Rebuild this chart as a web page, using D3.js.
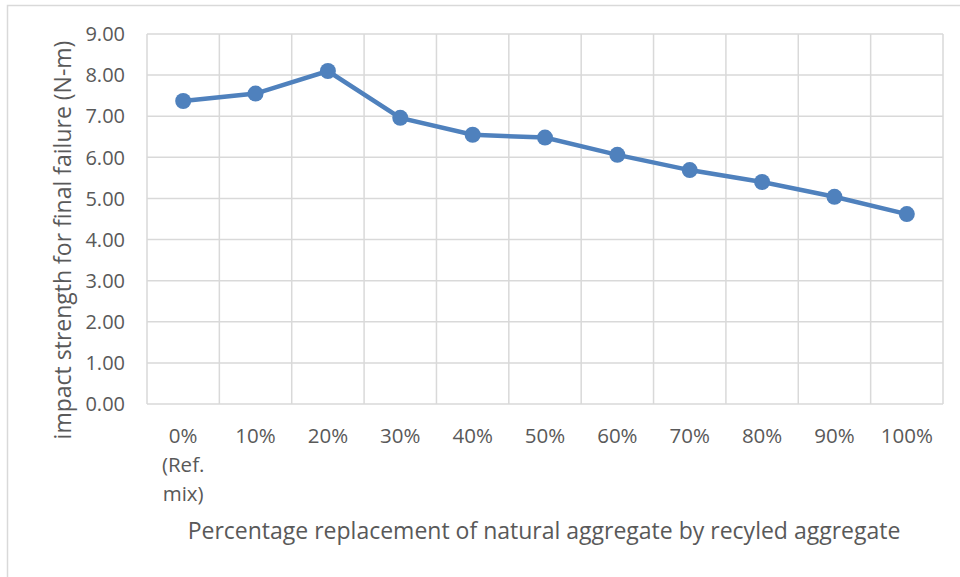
<!DOCTYPE html>
<html>
<head>
<meta charset="utf-8">
<script src="https://cdn.jsdelivr.net/npm/d3@7"></script>
<style>
  body { margin: 0; background: #fff; }
  text { font-family: "Open Sans", sans-serif; fill: #595959; }
</style>
</head>
<body>
<div id="chart"></div>
<script>
// categories and values
const categories = ["0%\n(Ref.\nmix)", "10%", "20%", "30%", "40%", "50%", "60%", "70%", "80%", "90%", "100%"];
const impactValues = [7.37, 7.55, 8.10, 6.96, 6.55, 6.48, 6.06, 5.69, 5.40, 5.04, 4.62];
const yTicks = [0, 1, 2, 3, 4, 5, 6, 7, 8, 9];

const width = 960;
const height = 577;
const margin = { top: 34, right: 17, bottom: 173, left: 147 };

const svg = d3.select("#chart")
    .append("svg")
    .attr("width", width)
    .attr("height", height);

// outer chart border
svg.append("rect")
    .attr("x", 7.5)
    .attr("y", 5.5)
    .attr("width", width)
    .attr("height", height)
    .attr("fill", "none")
    .attr("stroke", "#d9d9d9")
    .attr("stroke-width", 1.5);

const x = d3.scaleBand()
    .domain(d3.range(categories.length))
    .range([margin.left, width - margin.right]);

const y = d3.scaleLinear()
    .domain([0, 9])
    .range([height - margin.bottom, margin.top]);

// horizontal gridlines
svg.append("g")
    .selectAll("line")
    .data(yTicks)
    .enter().append("line")
    .attr("x1", margin.left)
    .attr("x2", width - margin.right)
    .attr("y1", d => y(d))
    .attr("y2", d => y(d))
    .attr("stroke", "#d9d9d9")
    .attr("stroke-width", 1.5);

// vertical gridlines at band edges
const edges = d3.range(categories.length + 1).map(i => margin.left + i * x.step());
svg.append("g")
    .selectAll("line")
    .data(edges)
    .enter().append("line")
    .attr("x1", d => d)
    .attr("x2", d => d)
    .attr("y1", y(0))
    .attr("y2", y(9))
    .attr("stroke", "#d9d9d9")
    .attr("stroke-width", 1.5);

// y tick labels
svg.append("g")
    .selectAll("text")
    .data(yTicks)
    .enter().append("text")
    .attr("x", margin.left - 22)
    .attr("y", d => y(d))
    .attr("dy", "0.36em")
    .attr("text-anchor", "end")
    .style("font-size", "20px")
    .text(d => d.toFixed(2));

// x tick labels (multi-line)
const xLabels = svg.append("g")
    .selectAll("text")
    .data(categories)
    .enter().append("text")
    .attr("x", (d, i) => x(i) + x.bandwidth() / 2)
    .attr("y", 443)
    .attr("text-anchor", "middle")
    .style("font-size", "20.5px");

xLabels.each(function (d) {
    const t = d3.select(this);
    d.split("\n").forEach((line, k) => {
        t.append("tspan")
            .attr("x", t.attr("x"))
            .attr("dy", k === 0 ? 0 : 29)
            .text(line);
    });
});

// axis titles
svg.append("text")
    .attr("x", 544)
    .attr("y", 539)
    .attr("text-anchor", "middle")
    .style("font-size", "23px")
    .text("Percentage replacement of natural aggregate by recyled aggregate");

svg.append("text")
    .attr("transform", "translate(71," + 240 + ") rotate(-90)")
    .attr("text-anchor", "middle")
    .style("font-size", "23px")
    .text("impact strength for final failure (N-m)");

// line and markers
const line = d3.line()
    .x((d, i) => x(i) + x.bandwidth() / 2)
    .y(d => y(d));

svg.append("path")
    .datum(impactValues)
    .attr("d", line)
    .attr("fill", "none")
    .attr("stroke", "#4f81bd")
    .attr("stroke-width", 4.5);

svg.append("g")
    .selectAll("circle")
    .data(impactValues)
    .enter().append("circle")
    .attr("cx", (d, i) => x(i) + x.bandwidth() / 2)
    .attr("cy", d => y(d))
    .attr("r", 8)
    .attr("fill", "#4f81bd");
</script>
</body>
</html>
